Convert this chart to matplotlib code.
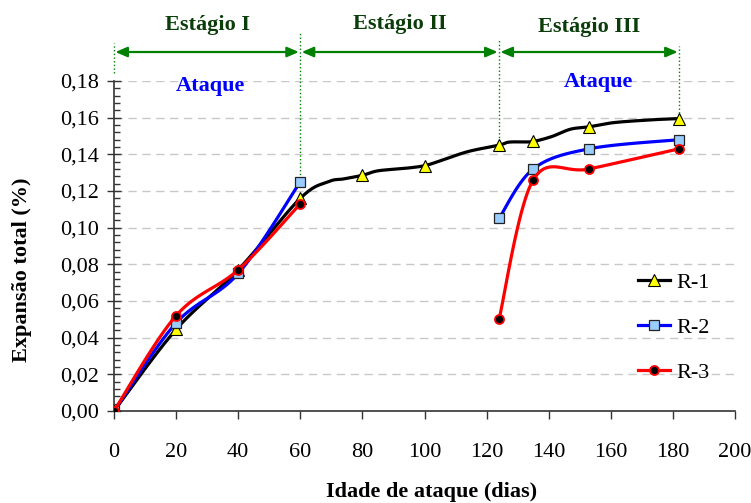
import numpy as np
import matplotlib
matplotlib.use("Agg")
import matplotlib.pyplot as plt
from matplotlib.lines import Line2D
from matplotlib.ticker import MultipleLocator, FuncFormatter

plt.rcParams['font.family'] = ['Liberation Serif', 'DejaVu Serif']

# R-1: leituras (marcadores apenas em alguns pontos)
r1_dias = [0, 20, 40, 60, 69, 74, 80, 85, 94, 100, 105, 114, 124, 127, 131, 135,
           141, 147, 153, 161, 173, 182]
r1_exp = [0, 0.0445, 0.077, 0.116, 0.1250, 0.1266, 0.1285, 0.1310, 0.1324, 0.1338,
          0.1364, 0.1415, 0.1450, 0.1466, 0.1468, 0.1470, 0.1497, 0.1537, 0.1550,
          0.1573, 0.1588, 0.1595]
r1_marcas = [0, 1, 2, 3, 6, 9, 12, 15, 18, 21]

# R-2 e R-3: estagio I e estagio III
r2_dias_a = [0, 20, 40, 60]
r2_exp_a = [0, 0.048, 0.075, 0.125]
r2_dias_b = [124, 135, 153, 182]
r2_exp_b = [0.105, 0.132, 0.143, 0.148]

r3_dias_a = [0, 20, 40, 60]
r3_exp_a = [0, 0.052, 0.077, 0.113]
r3_dias_b = [124, 135, 153, 182]
r3_exp_b = [0.050, 0.126, 0.132, 0.143]

estagios = ["Estágio I", "Estágio II", "Estágio III"]
limites = [0, 60, 124, 182]


def suave(x, y, n=30):
    # curva suavizada tipo Excel (Catmull-Rom em Bezier)
    p = np.column_stack([x, y]).astype(float)
    p = np.vstack([p[0], p, p[-1]])
    out = []
    t = np.linspace(0, 1, n)[:, None]
    for i in range(1, len(p) - 2):
        p0, p1, p2, p3 = p[i - 1], p[i], p[i + 1], p[i + 2]
        c1 = p1 + (p2 - p0) / 6
        c2 = p2 - (p3 - p1) / 6
        seg = ((1 - t) ** 3) * p1 + 3 * ((1 - t) ** 2) * t * c1 + 3 * (1 - t) * t ** 2 * c2 + t ** 3 * p2
        out.append(seg)
    out = np.vstack(out)
    return out[:, 0], out[:, 1]


fig = plt.figure(figsize=(7.51, 5.03), dpi=100)
ax = fig.add_axes([0.1518, 0.1829, 0.8269, 0.6561])

lw = 2.3
fs = 16
# R-1
xs, ys = suave(r1_dias, r1_exp)
ax.plot(xs, ys, color='black', lw=lw, zorder=3)
ax.plot([r1_dias[i] for i in r1_marcas], [r1_exp[i] for i in r1_marcas], ls='none',
        marker='^', ms=8, mfc='#ffff00', mec='black', mew=0.8, zorder=4)
# R-2
for dd, vv in [(r2_dias_a, r2_exp_a), (r2_dias_b, r2_exp_b)]:
    xs, ys = suave(dd, vv)
    ax.plot(xs, ys, color='#0000ff', lw=lw, zorder=5)
    ax.plot(dd, vv, ls='none', marker='s', ms=7, mfc='#99ccff', mec='#222222',
            mew=0.9, zorder=6)
# R-3
for dd, vv in [(r3_dias_a, r3_exp_a), (r3_dias_b, r3_exp_b)]:
    xs, ys = suave(dd, vv)
    ax.plot(xs, ys, color='#ff0000', lw=lw, zorder=7)
    ax.plot(dd, vv, ls='none', marker='o', ms=6.5, mfc='black', mec='#ff0000',
            mew=1.3, zorder=8)

ax.set_xlim(0, 200)
ax.set_ylim(0, 0.18)
ax.xaxis.set_major_locator(MultipleLocator(20))
ax.yaxis.set_major_locator(MultipleLocator(0.02))
ax.yaxis.set_minor_locator(MultipleLocator(0.004))
ax.yaxis.set_major_formatter(FuncFormatter(lambda v, p: f"{v:.2f}".replace('.', ',')))
ax.tick_params(axis='x', direction='out', length=6, width=1, pad=17, labelsize=fs,
               colors='#333333', labelcolor='black')
ax.tick_params(axis='y', which='major', direction='inout', length=10, width=1, pad=6,
               labelsize=fs, colors='#333333', labelcolor='black')
ax.tick_params(axis='y', which='minor', direction='in', length=4, width=1,
               colors='#333333')
for s in ['top', 'right']:
    ax.spines[s].set_visible(False)
for s in ['left', 'bottom']:
    ax.spines[s].set_color('#333333')
    ax.spines[s].set_linewidth(1.2)
ax.yaxis.grid(True, ls=(0, (6, 4)), color='#c8c8c8', lw=1)
ax.set_axisbelow(True)

fig.text(0.029, 0.463, "Expansão total (%)", rotation=90, ha='center', va='center',
         fontsize=fs, fontweight='bold')
fig.text(0.575, 0.022, "Idade de ataque (dias)", ha='center', va='center',
         fontsize=fs, fontweight='bold')

# estagios
verde = '#008000'
topo = [0.2008, 0.2068, 0.2024, 0.1991]
base = [0.1844, 0.1250, 0.1451, 0.1626]
for x, y0, y1 in zip(limites, base, topo):
    ax.plot([x, x], [y0, y1], ls=':', color=verde, lw=1, clip_on=False, zorder=2)
for i, nome in enumerate(estagios):
    a, b = limites[i], limites[i + 1]
    ax.annotate('', xy=(b, 0.1958), xytext=(a, 0.1958), annotation_clip=False,
                arrowprops=dict(arrowstyle='<|-|>,head_length=0.7,head_width=0.3',
                                color=verde, lw=1.6, shrinkA=1, shrinkB=1))
    ax.text((a + b) / 2, [0.2106, 0.2111, 0.2095][i], nome, ha='center', va='center',
            fontsize=fs, fontweight='bold', color='#0b3d0b', clip_on=False)
ax.text(31, 0.1775, "Ataque", ha='center', va='center', fontsize=fs,
        fontweight='bold', color='#0000ff')
ax.text(156, 0.1795, "Ataque", ha='center', va='center', fontsize=fs,
        fontweight='bold', color='#0000ff')

handles = [
    Line2D([], [], color='black', lw=lw, marker='^', ms=8, mfc='#ffff00', mec='black', mew=0.8),
    Line2D([], [], color='#0000ff', lw=lw, marker='s', ms=7, mfc='#99ccff', mec='#222222', mew=0.9),
    Line2D([], [], color='#ff0000', lw=lw, marker='o', ms=6.5, mfc='black', mec='#ff0000', mew=1.3),
]
ax.legend(handles, ["R-1", "R-2", "R-3"], loc='upper left', bbox_to_anchor=(0.843, 0.42),
          frameon=False, fontsize=fs, handlelength=1.45, handletextpad=0.3,
          labelspacing=1.1, borderpad=0, borderaxespad=0)

fig.savefig("out.png", dpi=100)
